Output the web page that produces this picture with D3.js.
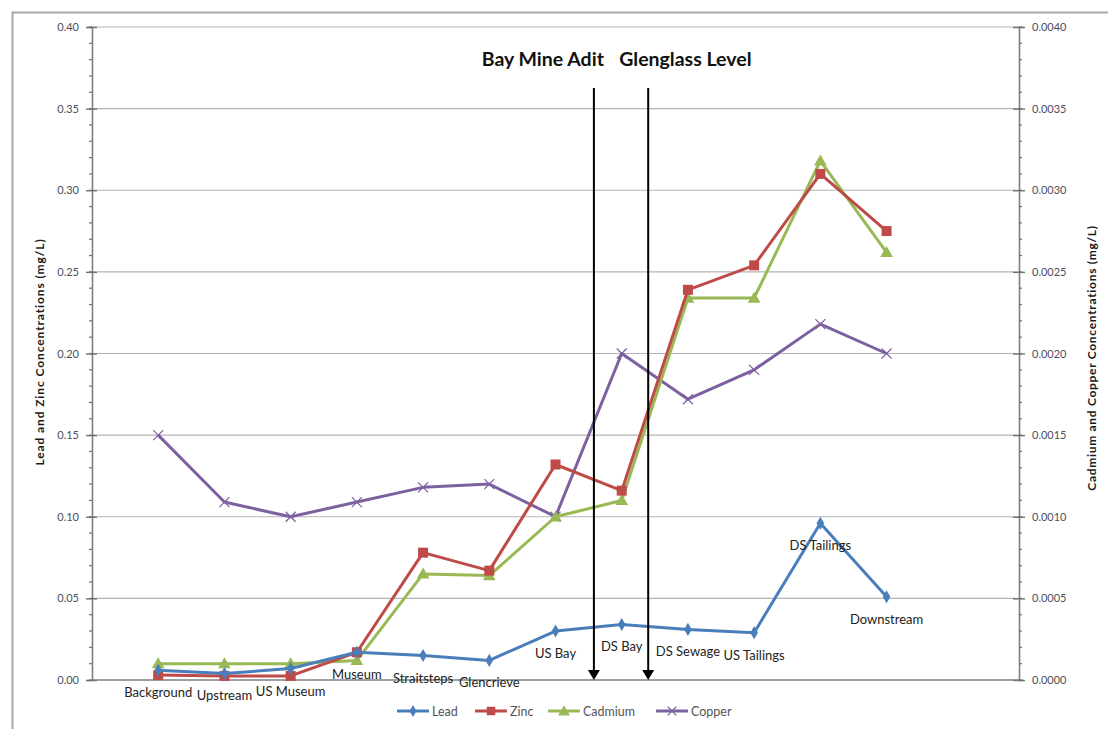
<!DOCTYPE html>
<html>
<head>
<meta charset="utf-8">
<script src="https://cdn.jsdelivr.net/npm/d3@7/dist/d3.min.js"></script>
<style>
  html, body { margin: 0; padding: 0; background: #fff; }
  svg { display: block; }
  text { font-family: Lato, "Open Sans", sans-serif; }
</style>
</head>
<body>
<svg id="chart" width="1108" height="729"></svg>
<script>
// Sampling sites along the stream, upstream to downstream
const sites = ["Background", "Upstream", "US Museum", "Museum", "Straitsteps", "Glencrieve",
               "US Bay", "DS Bay", "DS Sewage", "US Tailings", "DS Tailings", "Downstream"];

// Concentrations, mg/L
const lead    = [0.006, 0.004, 0.007, 0.017, 0.015, 0.012, 0.030, 0.034, 0.031, 0.029, 0.096, 0.051];
const zinc    = [0.003, 0.0025, 0.0025, 0.017, 0.078, 0.067, 0.132, 0.116, 0.239, 0.254, 0.310, 0.275];
const cadmium = [0.0001, 0.0001, 0.0001, 0.00012, 0.00065, 0.00064, 0.0010, 0.0011, 0.00234, 0.00234, 0.00318, 0.00262];
const copper  = [0.0015, 0.00109, 0.0010, 0.00109, 0.00118, 0.0012, 0.0010, 0.0020, 0.00172, 0.0019, 0.00218, 0.0020];

// Axis ticks
const leftTicks  = [0, 0.05, 0.10, 0.15, 0.20, 0.25, 0.30, 0.35, 0.40];
const rightTicks = [0, 0.0005, 0.0010, 0.0015, 0.0020, 0.0025, 0.0030, 0.0035, 0.0040];

// Discharge points, placed between sites (fractional site index)
const discharges = [
  { name: "Bay Mine Adit",   at: 6.58 },
  { name: "Glenglass Level", at: 7.40 }
];

const svg = d3.select("#chart");
const m = { left: 92, right: 1019, top: 27, bottom: 680 };

const x  = d3.scaleLinear().domain([-1, 13]).range([m.left, m.right]);
const yL = d3.scaleLinear().domain([0, 0.40]).range([m.bottom, m.top]);
const yR = d3.scaleLinear().domain([0, 0.0040]).range([m.bottom, m.top]);

// outer frame
svg.append("rect").attr("x", 12.5).attr("y", 12.5).attr("width", 1130).attr("height", 760)
  .attr("fill", "none").attr("stroke", "#a6a6a6").attr("stroke-width", 2);

// gridlines
svg.append("g").selectAll("line").data(leftTicks.slice(1)).join("line")
  .attr("x1", m.left).attr("x2", m.right)
  .attr("y1", d => yL(d)).attr("y2", d => yL(d))
  .attr("stroke", "#b5b5b5").attr("stroke-width", 1.2);

// left axis
const leftAxis = d3.axisLeft(yL).tickValues(leftTicks).tickFormat(d3.format(".2f")).tickSize(5).tickPadding(8);
const gL = svg.append("g").attr("transform", `translate(${m.left},0)`).call(leftAxis);
const leftMinor = d3.range(0, 0.4001, 0.01);
svg.append("g").selectAll("line").data(leftMinor).join("line")
  .attr("x1", m.left - 3).attr("x2", m.left)
  .attr("y1", d => yL(d)).attr("y2", d => yL(d))
  .attr("stroke", "#707070").attr("stroke-width", 1.2);

// right axis
const rightAxis = d3.axisRight(yR).tickValues(rightTicks).tickFormat(d3.format(".4f")).tickSize(5).tickPadding(8);
const gR = svg.append("g").attr("transform", `translate(${m.right},0)`).call(rightAxis);
const rightMinor = d3.range(0, 0.0040001, 0.0001);
svg.append("g").selectAll("line").data(rightMinor).join("line")
  .attr("x1", m.right).attr("x2", m.right + 3)
  .attr("y1", d => yR(d)).attr("y2", d => yR(d))
  .attr("stroke", "#707070").attr("stroke-width", 1.2);

[gL, gR].forEach(g => {
  g.select(".domain").attr("stroke", "#7f7f7f").attr("stroke-width", 1.6);
  g.selectAll(".tick line").attr("stroke", "#707070").attr("stroke-width", 1.4);
  g.selectAll(".tick text").attr("font-size", 11).attr("fill", "#4d4d5c");
});
gL.selectAll(".tick line").attr("x2", -6).attr("x1", 5);
gR.selectAll(".tick line").attr("x1", -6).attr("x2", 6);

// category (bottom) axis line
svg.append("line").attr("x1", m.left).attr("x2", m.right)
  .attr("y1", m.bottom).attr("y2", m.bottom)
  .attr("stroke", "#7f7f7f").attr("stroke-width", 1.6);

// axis titles
svg.append("text")
  .attr("transform", `translate(44,352) rotate(-90)`)
  .attr("text-anchor", "middle").attr("font-size", 12).attr("font-weight", "bold")
  .attr("letter-spacing", 0.9).attr("fill", "#1a1a1a")
  .text("Lead and Zinc Concentrations  (mg/L)");
svg.append("text")
  .attr("transform", `translate(1096,358) rotate(-90)`)
  .attr("text-anchor", "middle").attr("font-size", 12).attr("font-weight", "bold")
  .attr("letter-spacing", 0.7).attr("fill", "#1a1a1a")
  .text("Cadmium  and  Copper Concentrations  (mg/L)");

// series
const series = [
  { name: "Lead",    values: lead,    y: yL, color: "#4a7ebb", marker: "diamond" },
  { name: "Zinc",    values: zinc,    y: yL, color: "#be4b48", marker: "square" },
  { name: "Cadmium", values: cadmium, y: yR, color: "#98b954", marker: "triangle" },
  { name: "Copper",  values: copper,  y: yR, color: "#7d60a0", marker: "cross" }
];

function drawMarker(g, type, color, cx, cy, scale) {
  const s = scale || 1;
  if (type === "diamond") {
    g.append("path").attr("d", d3.symbol(d3.symbolDiamond, 50 * s)())
      .attr("transform", `translate(${cx},${cy})`).attr("fill", color);
  } else if (type === "square") {
    g.append("rect").attr("x", cx - 5 * s).attr("y", cy - 5 * s)
      .attr("width", 10 * s).attr("height", 10 * s).attr("fill", color);
  } else if (type === "triangle") {
    g.append("path").attr("d", d3.symbol(d3.symbolTriangle, 70 * s)())
      .attr("transform", `translate(${cx},${cy + 1})`).attr("fill", color);
  } else {
    const r = 5 * s;
    g.append("path").attr("d", `M${cx - r},${cy - r}L${cx + r},${cy + r}M${cx - r},${cy + r}L${cx + r},${cy - r}`)
      .attr("stroke", color).attr("stroke-width", 1.2).attr("fill", "none");
  }
}

// draw in reverse so Lead sits on top
series.slice().reverse().forEach(s => {
  const g = svg.append("g");
  const line = d3.line().x((d, i) => x(i)).y(d => s.y(d));
  g.append("path").datum(s.values).attr("d", line)
    .attr("fill", "none").attr("stroke", s.color).attr("stroke-width", 3)
    .attr("stroke-linejoin", "round");
  s.values.forEach((v, i) => drawMarker(g, s.marker, s.color, x(i), s.y(v)));
});

// site labels, placed below each lead point
svg.append("g").selectAll("text").data(sites).join("text")
  .attr("x", (d, i) => x(i))
  .attr("y", (d, i) => yL(lead[i]) + 27)
  .attr("text-anchor", "middle").attr("font-size", 13).attr("fill", "#222")
  .text(d => d);

// discharge arrows
const arrows = svg.append("g");
discharges.forEach(d => {
  const ax = x(d.at);
  arrows.append("line").attr("x1", ax).attr("x2", ax).attr("y1", 88).attr("y2", m.bottom - 8)
    .attr("stroke", "#000").attr("stroke-width", 2);
  arrows.append("path").attr("d", `M${ax - 6},${m.bottom - 10}L${ax + 6},${m.bottom - 10}L${ax},${m.bottom}Z`)
    .attr("fill", "#000");
});
svg.append("text").attr("x", x(discharges[0].at) + 10).attr("y", 66)
  .attr("text-anchor", "end").attr("font-size", 19.5).attr("font-weight", "bold").attr("fill", "#111")
  .text(discharges[0].name);
svg.append("text").attr("x", x(discharges[1].at) - 29).attr("y", 66)
  .attr("text-anchor", "start").attr("font-size", 19.5).attr("font-weight", "bold").attr("fill", "#111")
  .text(discharges[1].name);

// legend
const legendX = [397, 475, 548, 656];
const legend = svg.append("g");
series.forEach((s, i) => {
  const lx = legendX[i], ly = 711;
  legend.append("line").attr("x1", lx).attr("x2", lx + 32).attr("y1", ly).attr("y2", ly)
    .attr("stroke", s.color).attr("stroke-width", 3);
  drawMarker(legend, s.marker, s.color, lx + 16, ly, 0.85);
  legend.append("text").attr("x", lx + 35).attr("y", ly + 4.5)
    .attr("font-size", 12.5).attr("fill", "#555").text(s.name);
});
</script>
</body>
</html>
